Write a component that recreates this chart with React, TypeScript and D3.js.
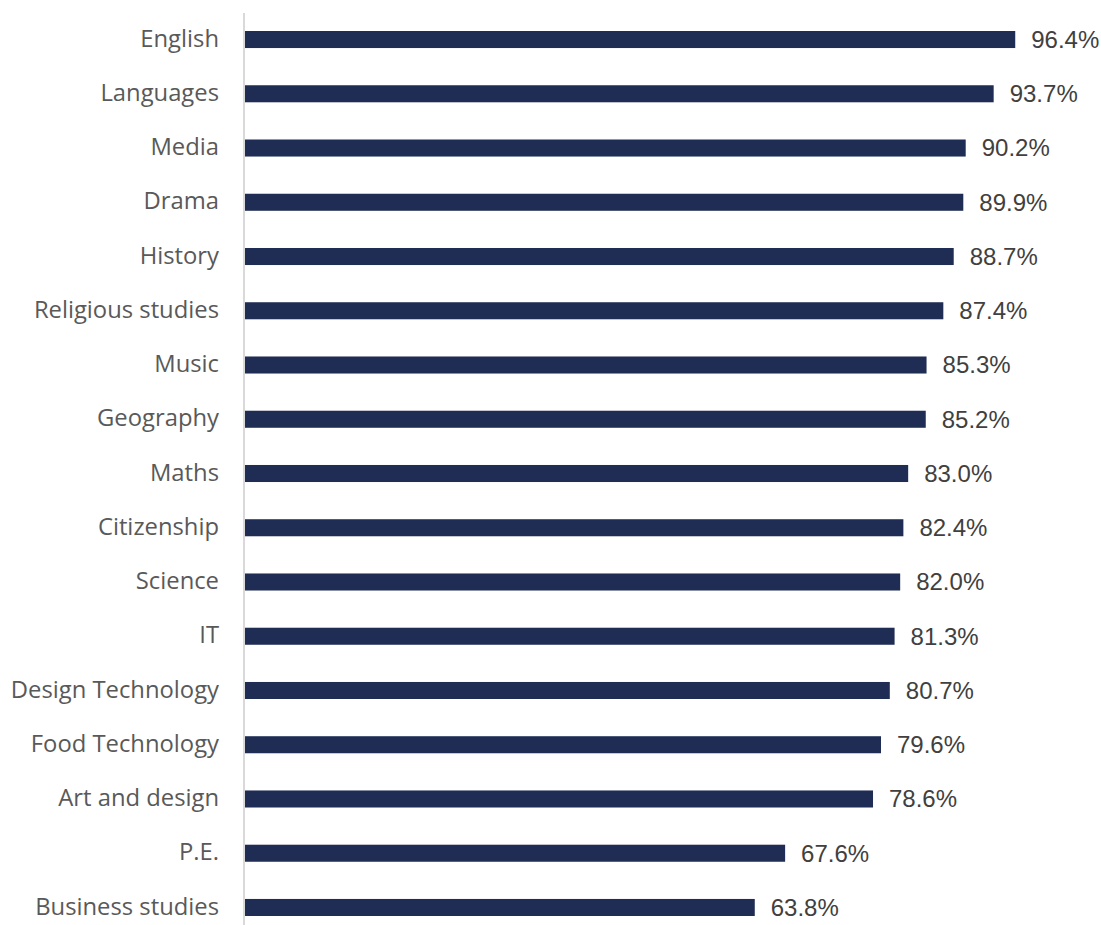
import React from "react";
import * as d3 from "d3";

const categories = [
  "English", "Languages", "Media", "Drama", "History", "Religious studies", "Music",
  "Geography", "Maths", "Citizenship", "Science", "IT", "Design Technology",
  "Food Technology", "Art and design", "P.E.", "Business studies",
];
const values = [96.4, 93.7, 90.2, 89.9, 88.7, 87.4, 85.3, 85.2, 83.0, 82.4, 82.0, 81.3, 80.7, 79.6, 78.6, 67.6, 63.8];

export default function App() {
  const W = 1101, H = 925;
  const x = d3.scaleLinear().domain([0, 100]).range([245, 1044]);
  const y = d3.scaleBand<string>().domain(categories).range([12.4, 934.6]).paddingInner(0.686).paddingOuter(0.343);
  return (
    <svg width={W} height={H} style={{ position: "absolute", left: 0, top: 0 }}>
      <line x1={244} x2={244} y1={13} y2={925} stroke="#d9d9d9" strokeWidth={2} />
      {categories.map((c, i) => (
        <g key={c}>
          <rect x={x(0)} y={y(c)!} width={x(values[i]) - x(0)} height={y.bandwidth()} fill="#1f2c53" />
          <text x={219} y={y(c)! + y.bandwidth() / 2} dy="0.3em" textAnchor="end"
            fontFamily="'Open Sans', sans-serif" fontSize={23.8} fill="#595959">{c}</text>
          <text x={x(values[i]) + 16} y={y(c)! + y.bandwidth() / 2} dy="0.35em"
            fontFamily="'Liberation Sans', Arial, sans-serif" fontSize={24} fill="#404040">{values[i].toFixed(1)}%</text>
        </g>
      ))}
    </svg>
  );
}
